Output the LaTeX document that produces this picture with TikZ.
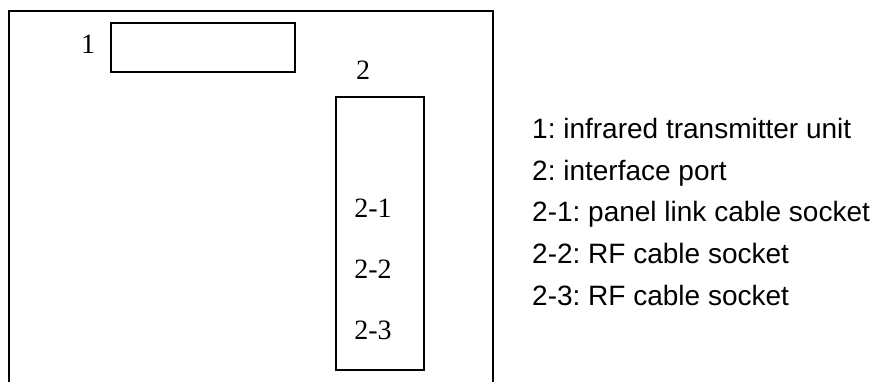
\documentclass[tikz,border=0pt]{standalone}
\usepackage{fontspec}
\setmainfont{Liberation Serif}
\setsansfont{Liberation Sans}
\usetikzlibrary{positioning}
\frenchspacing

\tikzset{
  unitbox/.style={draw, line width=1.4pt, inner sep=0pt},
  num/.style={font=\fontsize{28}{30}\selectfont, anchor=base, inner sep=0pt},
  legend/.style={font=\sffamily\fontsize{28}{30}\selectfont, anchor=base west, inner sep=0pt}
}

\begin{document}
\begin{tikzpicture}[x=1pt,y=-1pt]
    \useasboundingbox (0,0) rectangle (877,381);
    \clip (0,0) rectangle (877,381);
    % housing, open at the bottom
    \draw[line width=2pt] (9,400) -- (9,11) -- (493,11) -- (493,400);
    % parts
    \node[unitbox, minimum width=184pt, minimum height=49pt] (ir) at (203,47.5) {};
    \node[num] (irnum) at (88,53) {1};
    \node[unitbox, minimum width=88pt, minimum height=273pt] (port) at (380,233.5) {};
    \node[num] (portnum) at (363,79) {2};
    \node[num] (s1) at (373,217) {2-1};
    \node[num] (s2) at (373,278) {2-2};
    \node[num] (s3) at (373,339) {2-3};
    % legend
    \node[legend] (l1) at (532,138) {1: infrared transmitter unit};
    \node[legend] (l2) at (532,180) {2: interface port};
    \node[legend] (l3) at (532,221) {2-1: panel link cable socket};
    \node[legend] (l4) at (532,263) {2-2: RF cable socket};
    \node[legend] (l5) at (532,305) {2-3: RF cable socket};
\end{tikzpicture}
\end{document}
